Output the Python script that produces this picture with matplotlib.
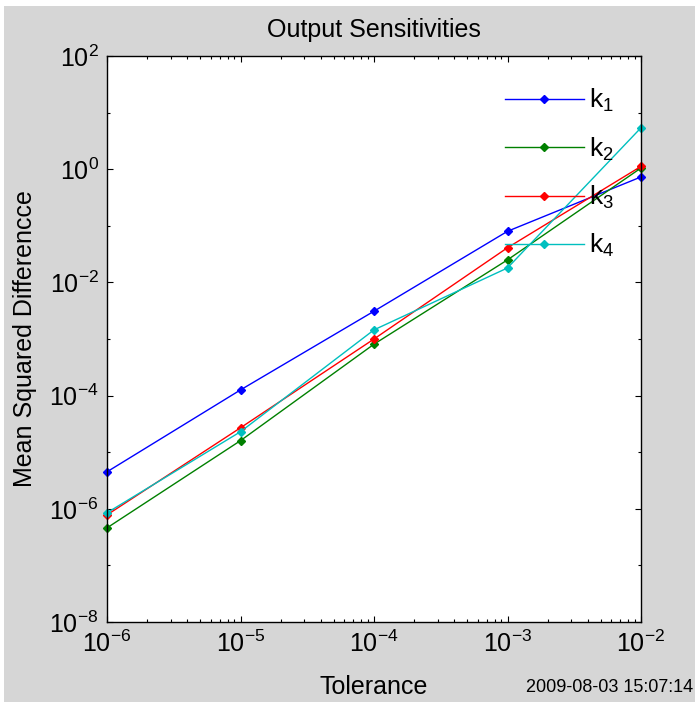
import matplotlib
matplotlib.use("Agg")
import matplotlib.pyplot as plt
from matplotlib.patches import Rectangle
import numpy as np

tolerance = [1e-6, 1e-5, 1e-4, 1e-3, 1e-2]
k1 = [4.5e-6, 1.26e-4, 3.1e-3, 0.080, 0.73]
k2 = [4.6e-7, 1.6e-5, 8.1e-4, 0.025, 1.05]
k3 = [7.8e-7, 2.7e-5, 1.0e-3, 0.041, 1.12]
k4 = [8.5e-7, 2.3e-5, 1.45e-3, 0.018, 5.4]
series_labels = [r'k$_1$', r'k$_2$', r'k$_3$', r'k$_4$']
series_colors = ['#0000ff', '#008000', '#ff0000', '#00bfbf']
x_ticks = [1e-6, 1e-5, 1e-4, 1e-3, 1e-2]
x_ticklabels = [r'$10^{-6}$', r'$10^{-5}$', r'$10^{-4}$', r'$10^{-3}$', r'$10^{-2}$']
y_ticks = [1e-8, 1e-6, 1e-4, 1e-2, 1e0, 1e2]
y_ticklabels = [r'$10^{-8}$', r'$10^{-6}$', r'$10^{-4}$', r'$10^{-2}$', r'$10^{0}$', r'$10^{2}$']
y_minor = [1e-7, 1e-5, 1e-3, 1e-1, 1e1]

plt.rcParams['font.family'] = ['Liberation Sans', 'DejaVu Sans']
plt.rcParams['mathtext.fontset'] = 'custom'
plt.rcParams['mathtext.rm'] = 'Liberation Sans'
plt.rcParams['mathtext.it'] = 'Liberation Sans'
plt.rcParams['mathtext.default'] = 'regular'

bg = '#d6d6d6'
fig = plt.figure(figsize=(6.95, 7.02), dpi=100, facecolor='white')
fig.patches.append(Rectangle((4/695, 0), 1, (702-6)/702, transform=fig.transFigure,
                             facecolor=bg, edgecolor='none', zorder=-10))
ax = fig.add_axes([107/695, 80/702, 534/695, 566/702])
ax.set_facecolor('white')

for vals, lab, col in zip([k1, k2, k3, k4], series_labels, series_colors):
    ax.plot(tolerance, vals, color=col, lw=1.0, marker='D', markersize=4,
            markerfacecolor=col, markeredgecolor=col, label=lab, clip_on=False)

ax.set_xscale('log')
ax.set_yscale('log')
ax.set_xlim(1e-6, 1e-2)
ax.set_ylim(1e-8, 1e2)
ax.set_xticks(x_ticks)
ax.set_xticklabels(x_ticklabels)
ax.set_yticks(y_ticks)
ax.set_yticklabels(y_ticklabels)
xminor = [m * 10.0**e for e in range(-6, -2) for m in range(2, 10)]
ax.set_xticks(xminor, minor=True)
ax.set_yticks(y_minor, minor=True)
ax.tick_params(which='both', direction='in', top=True, right=True, labelsize=18, width=0.8)
ax.tick_params(which='major', length=4.5, pad=6)
ax.tick_params(which='minor', length=2.2, labelbottom=False, labelleft=False)
for sp in ax.spines.values():
    sp.set_linewidth(1.0)

ax.set_title('Output Sensitivities', fontsize=18, pad=14)
ax.set_xlabel('Tolerance', fontsize=18, labelpad=13)
ax.set_ylabel('Mean Squared Differencce', fontsize=18, labelpad=9)

leg = ax.legend(loc='upper left', bbox_to_anchor=(0.745, 0.945), frameon=False,
                fontsize=19, handlelength=3.0, handletextpad=0.2, labelspacing=0.8,
                borderpad=0, borderaxespad=0)

fig.text(693/695, 1 - 688/702, '2009-08-03 15:07:14', ha='right', va='center', fontsize=13)

fig.savefig('out.png', dpi=100, facecolor=fig.get_facecolor())
